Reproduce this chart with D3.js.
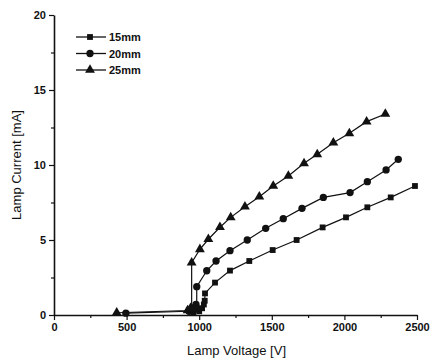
<!DOCTYPE html>
<html lang="en">
<head>
    <meta charset="UTF-8">
    <script src="https://d3js.org/d3.v7.min.js"></script>
    <style>
        body { margin: 0; background: #fff; }
        text { font-family: "Liberation Sans", Arial, sans-serif; fill: #111; }
    </style>
</head>
<body>
    <div id="chart"></div>

    <script>
        // lamp voltage [V] / lamp current [mA]
        var gap15 = [
            [960, 0.15], [1000, 0.25], [1020, 0.45], [1032, 0.7], [1038, 0.95],
            [1040, 1.44], [1109, 2.16], [1212, 2.96], [1345, 3.6], [1506, 4.33],
            [1671, 5.0], [1850, 5.84], [2011, 6.51], [2158, 7.18], [2319, 7.84], [2486, 8.6]
        ];
        var gap20 = [
            [495, 0.12], [930, 0.25], [955, 0.35], [968, 0.5], [978, 0.7],
            [983, 0.45], [983, 1.89], [1052, 2.95], [1116, 3.6], [1212, 4.29], [1331, 5.0],
            [1458, 5.78], [1579, 6.42], [1708, 7.11], [1855, 7.84], [2039, 8.16],
            [2158, 8.89], [2287, 9.67], [2371, 10.38]
        ];
        var gap25 = [
            [432, 0.15], [920, 0.3], [940, 0.45], [948, 0.35], [948, 3.49],
            [1005, 4.38], [1063, 5.05], [1143, 5.85], [1217, 6.51], [1315, 7.22],
            [1414, 7.89], [1510, 8.6], [1614, 9.27], [1722, 10.11], [1813, 10.71],
            [1924, 11.49], [2034, 12.11], [2153, 12.89], [2282, 13.4]
        ];
        var seriesNames = ["15mm", "20mm", "25mm"];
        var xTicks = [0, 500, 1000, 1500, 2000, 2500];
        var yTicks = [0, 5, 10, 15, 20];

        var width = 434, height = 361;
        var margin = { top: 15, right: 17, bottom: 46, left: 54 };

        var svg = d3.select("#chart")
            .append("svg")
            .attr("width", width)
            .attr("height", height);

        var x = d3.scaleLinear()
            .domain([0, 2500])
            .range([margin.left, width - margin.right]);

        var y = d3.scaleLinear()
            .domain([0, 20])
            .range([height - margin.bottom, margin.top]);

        // axes: major ticks labelled, minor ticks in between
        svg.append("g")
            .attr("transform", "translate(0," + (height - margin.bottom) + ")")
            .call(d3.axisBottom(x).tickValues(xTicks).tickFormat(d3.format("d"))
                .tickSize(5).tickSizeOuter(0).tickPadding(3));
        svg.append("g")
            .attr("transform", "translate(0," + (height - margin.bottom) + ")")
            .call(d3.axisBottom(x).tickValues(d3.range(250, 2500, 500)).tickSize(3).tickFormat(""))
            .select(".domain").remove();

        svg.append("g")
            .attr("transform", "translate(" + margin.left + ",0)")
            .call(d3.axisLeft(y).tickValues(yTicks).tickFormat(d3.format("d"))
                .tickSize(5).tickSizeOuter(0).tickPadding(3));
        svg.append("g")
            .attr("transform", "translate(" + margin.left + ",0)")
            .call(d3.axisLeft(y).tickValues(d3.range(2.5, 20, 5)).tickSize(3).tickFormat(""))
            .select(".domain").remove();

        svg.selectAll(".domain").attr("stroke", "#111").attr("stroke-width", 1.6);
        svg.selectAll(".tick line").attr("stroke", "#111").attr("stroke-width", 1.2);
        svg.selectAll(".tick text")
            .style("font-size", "11px")
            .style("font-weight", "bold")
            .attr("fill", "#111");

        svg.append("text")
            .attr("x", (x(0) + x(2500)) / 2 + 1)
            .attr("y", height - 6)
            .attr("text-anchor", "middle")
            .style("font-size", "13px")
            .text("Lamp Voltage [V]");

        svg.append("text")
            .attr("transform", "translate(21," + y(10) + ") rotate(-90)")
            .attr("text-anchor", "middle")
            .style("font-size", "13px")
            .text("Lamp Current [mA]");

        var line = d3.line()
            .x(function (d) { return x(d[0]); })
            .y(function (d) { return y(d[1]); });

        var symbols = [d3.symbolSquare, d3.symbolCircle, d3.symbolTriangle];
        var symbolSizes = [34, 42, 42];
        var allSeries = [gap15, gap20, gap25];

        allSeries.forEach(function (data, i) {
            svg.append("path")
                .datum(data)
                .attr("d", line)
                .attr("fill", "none")
                .attr("stroke", "#111")
                .attr("stroke-width", 1.2);

            svg.append("g")
                .selectAll("path")
                .data(data)
                .enter()
                .append("path")
                .attr("transform", function (d) { return "translate(" + x(d[0]) + "," + y(d[1]) + ")"; })
                .attr("d", d3.symbol().type(symbols[i]).size(symbolSizes[i]))
                .attr("fill", "#111");
        });

        // legend
        var legend = svg.append("g")
            .attr("transform", "translate(76,37)");

        seriesNames.forEach(function (name, i) {
            var g = legend.append("g")
                .attr("transform", "translate(0," + (i * 16.5) + ")");
            g.append("line")
                .attr("x1", 0).attr("x2", 30)
                .attr("stroke", "#111").attr("stroke-width", 1.3);
            g.append("path")
                .attr("transform", "translate(14,0)")
                .attr("d", d3.symbol().type(symbols[i]).size(symbolSizes[i]))
                .attr("fill", "#111");
            g.append("text")
                .attr("x", 33)
                .attr("y", 4)
                .style("font-size", "11px")
                .style("font-weight", "bold")
                .text(name);
        });
    </script>
</body>
</html>
